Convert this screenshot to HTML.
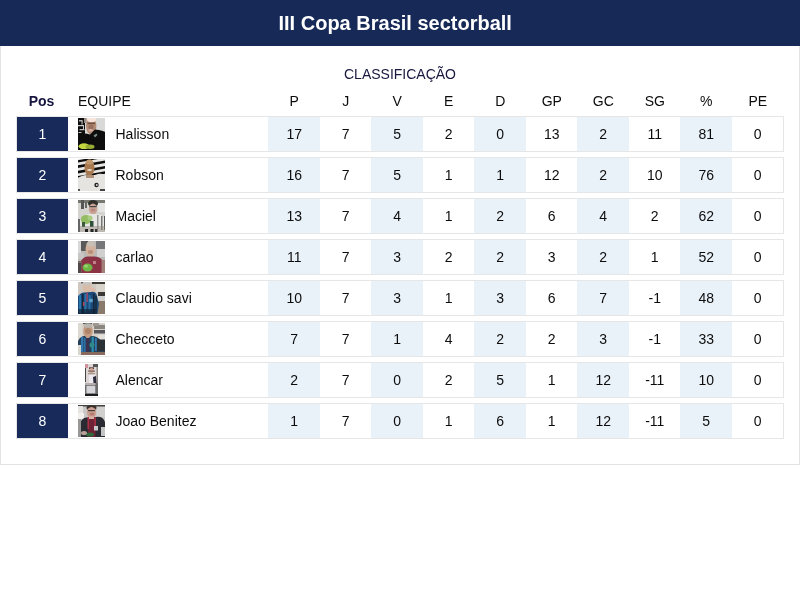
<!DOCTYPE html><html><head><meta charset="utf-8"><title>III Copa Brasil sectorball</title><style>
*{box-sizing:border-box}
html,body{margin:0;padding:0}
body{width:800px;height:600px;background:#fff;font-family:"Liberation Sans",Arial,sans-serif;font-size:14px;color:#0c0c0c;overflow:hidden;position:relative}
.top{position:absolute;left:0;top:0;width:800px;height:46px;background:#162957;color:#fff;font-weight:bold;font-size:20px;text-align:left;padding-left:278.5px;line-height:46px;white-space:nowrap}
.card{position:absolute;left:0;top:46px;width:800px;height:419px;background:#fff;border:1px solid #e3e3e3;border-top:none}
  .ttl{position:absolute;left:-1px;top:20px;width:800px;text-align:center;color:#17173f;font-size:14px;line-height:16px}
.hd{position:absolute;left:15px;top:47px;width:768px;height:16px;line-height:16px}
.hd span,.r span{position:absolute;top:0;text-align:center}
.r{position:absolute;left:15px;width:768px;height:36px;border:1px solid #e6e6e6;background:#fff}
.r span{line-height:32px;height:32px;top:1px}
.r .pos{left:0;top:0;width:51px;height:34px;background:#172a5a;color:#fff;line-height:34px}
.r .nm{left:98.5px;text-align:left;white-space:nowrap}
.r .ph{left:61px;top:1px;width:27px;height:32px;overflow:hidden}
.r .ph svg{margin:0 auto}
.r .n{top:0;height:34px;line-height:34px;padding-left:1px}
.b{background:#eaf2f9}
</style></head><body>
<div class="top">III Copa Brasil sectorball</div>
<div class="card">
<div class="ttl">CLASSIFICAÇÃO</div>
<div class="hd"><span style="left:0;width:51px;font-weight:bold;color:#15153f">Pos</span><span style="left:62px;text-align:left">EQUIPE</span>
<span style="left:252.5px;width:51.5px">P</span>
<span style="left:304.0px;width:51.5px">J</span>
<span style="left:355.5px;width:51.5px">V</span>
<span style="left:407.0px;width:51.5px">E</span>
<span style="left:458.5px;width:51.5px">D</span>
<span style="left:510.0px;width:51.5px">GP</span>
<span style="left:561.5px;width:51.5px">GC</span>
<span style="left:613.0px;width:51.5px">SG</span>
<span style="left:664.5px;width:51.5px">%</span>
<span style="left:716.0px;width:51.5px">PE</span>
</div>
<div class="r" style="top:70px"><span class="pos">1</span><span class="ph"><svg width="27" height="32" viewBox="0 0 27 32" style="display:block;overflow:hidden"><defs><filter id="bl1" x="-20%" y="-20%" width="140%" height="140%"><feGaussianBlur stdDeviation="0.5"/></filter></defs><g filter="url(#bl1)">
<rect x="-2" y="-2" width="31" height="36" fill="#d9d9d7"/>
<rect x="-2" y="-2" width="9" height="22" fill="#0d0d0d"/>
<rect x="1" y="2.3" width="3.6" height="1" fill="#fff"/><rect x="0" y="7.2" width="6" height="1" fill="#fff"/><rect x="1.5" y="11.2" width="5" height="1" fill="#eee"/><rect x="0.5" y="14" width="3" height="0.9" fill="#ddd"/>
<rect x="3.6" y="3" width="0.9" height="3.6" fill="#eee"/><rect x="5" y="8" width="0.9" height="3" fill="#ddd"/>
<rect x="6" y="-1" width="2.6" height="6" fill="#9a8c84"/>
<ellipse cx="13.2" cy="8" rx="5.2" ry="8.5" fill="#b48c76"/>
<ellipse cx="13.6" cy="1.2" rx="4.6" ry="3" fill="#f6e4da"/>
<rect x="9.5" y="4.6" width="7.5" height="1.6" fill="#6e4e40"/>
<ellipse cx="13" cy="9" rx="2.6" ry="2.6" fill="#96705c"/>
<ellipse cx="12.6" cy="12.2" rx="2.4" ry="1.2" fill="#d8b0a4"/>
<path d="M-2 19 Q2 16 8 15.5 L12 16.5 L17 11.5 Q25 12 29 15 L29 34 L-2 34Z" fill="#0b0c0b"/>
<path d="M15.5 17.5 L18.5 15.5 L19.5 17 L17 19.5Z" fill="#7c8c84"/>
<ellipse cx="6" cy="28.2" rx="5.5" ry="2.9" fill="#c3d640"/>
<ellipse cx="12" cy="28.8" rx="4.5" ry="2.2" fill="#98ac34"/>
</g></svg></span><span class="nm">Halisson</span>
<span class="n b" style="left:251.0px;width:51.5px">17</span>
<span class="n" style="left:302.5px;width:51.5px">7</span>
<span class="n b" style="left:354.0px;width:51.5px">5</span>
<span class="n" style="left:405.5px;width:51.5px">2</span>
<span class="n b" style="left:457.0px;width:51.5px">0</span>
<span class="n" style="left:508.5px;width:51.5px">13</span>
<span class="n b" style="left:560.0px;width:51.5px">2</span>
<span class="n" style="left:611.5px;width:51.5px">11</span>
<span class="n b" style="left:663.0px;width:51.5px">81</span>
<span class="n" style="left:714.5px;width:51.5px">0</span>
</div>
<div class="r" style="top:111px"><span class="pos">2</span><span class="ph"><svg width="27" height="32" viewBox="0 0 27 32" style="display:block;overflow:hidden"><defs><filter id="bl2" x="-20%" y="-20%" width="140%" height="140%"><feGaussianBlur stdDeviation="0.7"/></filter></defs><g filter="url(#bl2)">
<rect x="-2" y="-2" width="31" height="36" fill="#e9e7e4"/>
<g transform="rotate(-10 13 8)">
<rect x="-4" y="-1" width="36" height="2.4" fill="#111"/><rect x="-4" y="4" width="36" height="2.6" fill="#111"/><rect x="-4" y="9.4" width="36" height="2.6" fill="#111"/><rect x="-4" y="14.6" width="36" height="2.6" fill="#111"/>
</g>
<path d="M-2 20 Q4 16 9 16 L17 16 Q24 13 29 17 L29 34 L-2 34Z" fill="#e6e4e0"/>
<ellipse cx="11.5" cy="8.5" rx="5" ry="8" fill="#a87850"/>
<ellipse cx="11.5" cy="3" rx="3.6" ry="2.5" fill="#c09870"/>
<ellipse cx="11.5" cy="11" rx="2.5" ry="1" fill="#e8d8c8"/>
<rect x="8" y="16" width="8" height="3" fill="#b09078"/>
<circle cx="18.5" cy="26" r="2.2" fill="#222"/><circle cx="18.8" cy="26" r="0.9" fill="#ddd"/>
<rect x="0" y="30" width="2" height="3" fill="#555"/><rect x="22" y="30" width="6" height="2" fill="#444"/>
</g></svg></span><span class="nm">Robson</span>
<span class="n b" style="left:251.0px;width:51.5px">16</span>
<span class="n" style="left:302.5px;width:51.5px">7</span>
<span class="n b" style="left:354.0px;width:51.5px">5</span>
<span class="n" style="left:405.5px;width:51.5px">1</span>
<span class="n b" style="left:457.0px;width:51.5px">1</span>
<span class="n" style="left:508.5px;width:51.5px">12</span>
<span class="n b" style="left:560.0px;width:51.5px">2</span>
<span class="n" style="left:611.5px;width:51.5px">10</span>
<span class="n b" style="left:663.0px;width:51.5px">76</span>
<span class="n" style="left:714.5px;width:51.5px">0</span>
</div>
<div class="r" style="top:152px"><span class="pos">3</span><span class="ph"><svg width="27" height="32" viewBox="0 0 27 32" style="display:block;overflow:hidden"><defs><filter id="bl3" x="-20%" y="-20%" width="140%" height="140%"><feGaussianBlur stdDeviation="0.6"/></filter></defs><g filter="url(#bl3)">
<rect x="-2" y="-2" width="31" height="36" fill="#d4d3cf"/>
<rect x="-2" y="-2" width="31" height="5" fill="#77786f"/>
<rect x="3" y="0" width="3" height="9" fill="#555"/><rect x="7" y="2" width="2" height="6" fill="#666"/>
<rect x="20" y="3" width="8" height="9" fill="#e4e4e2"/>
<ellipse cx="15" cy="3.5" rx="5" ry="3.5" fill="#33302c"/>
<ellipse cx="15" cy="9" rx="4.2" ry="5.5" fill="#c9a494"/>
<rect x="11.5" y="6" width="7" height="1.2" fill="#444"/>
<ellipse cx="15" cy="10" rx="2.5" ry="1.5" fill="#b88880"/>
<path d="M2 20 Q8 13 13 14 L18 14 Q25 14 27 20 L27 34 L2 34Z" fill="#e6e6e4"/>
<rect x="19" y="15" width="1.5" height="14" fill="#999"/><rect x="23" y="16" width="1.5" height="14" fill="#777"/><rect x="26" y="16" width="2" height="14" fill="#555"/>
<ellipse cx="8" cy="19.5" rx="5.2" ry="4.6" fill="#94bc64"/><ellipse cx="12" cy="18" rx="2.5" ry="2.5" fill="#a8cc80"/>
<rect x="4" y="22" width="3" height="5" fill="#3a5a38"/><rect x="12" y="21" width="3.5" height="6" fill="#2f4f38"/>
<rect x="0" y="26" width="28" height="7" fill="#8d8478" opacity=".45"/>
<rect x="7" y="29" width="3" height="3" fill="#222"/><rect x="12.5" y="29" width="3" height="3" fill="#222"/><rect x="17" y="29" width="2.5" height="3" fill="#333"/>
<rect x="0" y="19" width="2" height="13" fill="#666"/>
</g></svg></span><span class="nm">Maciel</span>
<span class="n b" style="left:251.0px;width:51.5px">13</span>
<span class="n" style="left:302.5px;width:51.5px">7</span>
<span class="n b" style="left:354.0px;width:51.5px">4</span>
<span class="n" style="left:405.5px;width:51.5px">1</span>
<span class="n b" style="left:457.0px;width:51.5px">2</span>
<span class="n" style="left:508.5px;width:51.5px">6</span>
<span class="n b" style="left:560.0px;width:51.5px">4</span>
<span class="n" style="left:611.5px;width:51.5px">2</span>
<span class="n b" style="left:663.0px;width:51.5px">62</span>
<span class="n" style="left:714.5px;width:51.5px">0</span>
</div>
<div class="r" style="top:193px"><span class="pos">4</span><span class="ph"><svg width="27" height="32" viewBox="0 0 27 32" style="display:block;overflow:hidden"><defs><filter id="bl4" x="-20%" y="-20%" width="140%" height="140%"><feGaussianBlur stdDeviation="0.7"/></filter></defs><g filter="url(#bl4)">
<rect x="-2" y="-2" width="31" height="36" fill="#b9b9b7"/>
<rect x="3" y="0" width="7" height="10" fill="#5a5a58"/><rect x="18" y="0" width="10" height="8" fill="#77787a"/><rect x="0" y="0" width="3" height="14" fill="#d8d8d8"/>
<rect x="19" y="8" width="9" height="8" fill="#d0d0ce"/><rect x="0" y="12" width="6" height="6" fill="#c8c6c4"/>
<ellipse cx="12.5" cy="8" rx="5" ry="7.5" fill="#d2b29c"/>
<ellipse cx="12.5" cy="3" rx="4" ry="2.6" fill="#c8c0b4"/>
<ellipse cx="12.5" cy="11" rx="2.6" ry="2" fill="#b88e7c"/>
<path d="M2 22 Q5 15 10 15.5 L16 15.5 Q23 15 26 22 L27 34 L0 34Z" fill="#8c3345"/>
<rect x="0" y="20" width="3.5" height="13" fill="#7a6a66"/><rect x="23.5" y="19" width="4" height="14" fill="#a08078"/>
<ellipse cx="9.5" cy="26.5" rx="5" ry="4" fill="#6fb545"/>
<ellipse cx="8" cy="25" rx="2" ry="1.5" fill="#9ad470"/>
<rect x="15" y="20" width="3" height="3" fill="#c08088"/>
<rect x="0" y="22" width="3" height="10" fill="#333" opacity=".6"/>
</g></svg></span><span class="nm">carlao</span>
<span class="n b" style="left:251.0px;width:51.5px">11</span>
<span class="n" style="left:302.5px;width:51.5px">7</span>
<span class="n b" style="left:354.0px;width:51.5px">3</span>
<span class="n" style="left:405.5px;width:51.5px">2</span>
<span class="n b" style="left:457.0px;width:51.5px">2</span>
<span class="n" style="left:508.5px;width:51.5px">3</span>
<span class="n b" style="left:560.0px;width:51.5px">2</span>
<span class="n" style="left:611.5px;width:51.5px">1</span>
<span class="n b" style="left:663.0px;width:51.5px">52</span>
<span class="n" style="left:714.5px;width:51.5px">0</span>
</div>
<div class="r" style="top:234px"><span class="pos">5</span><span class="ph"><svg width="27" height="32" viewBox="0 0 27 32" style="display:block;overflow:hidden"><defs><filter id="bl5" x="-20%" y="-20%" width="140%" height="140%"><feGaussianBlur stdDeviation="0.7"/></filter></defs><g filter="url(#bl5)">
<rect x="-2" y="-2" width="31" height="36" fill="#cfc8c0"/>
<rect x="14" y="-1" width="14" height="3" fill="#3c3a38"/><rect x="3" y="-1" width="6" height="2.5" fill="#666"/>
<rect x="18" y="2" width="10" height="8" fill="#d8d4cc"/>
<rect x="20" y="10" width="8" height="4" fill="#3a3838"/><rect x="20" y="14" width="8" height="5" fill="#cfcfcf"/>
<rect x="18" y="19" width="10" height="14" fill="#8a7a6c"/>
<ellipse cx="9" cy="5.5" rx="4.5" ry="5.5" fill="#d9bca8"/>
<ellipse cx="8.5" cy="1.5" rx="4" ry="2" fill="#c8c4c0"/>
<ellipse cx="15" cy="8" rx="2.5" ry="2" fill="#e0b8a8"/>
<path d="M-1 16 Q2 10 7 10.5 L13 10 Q18 9 19 14 L21 22 L19 34 L-1 34Z" fill="#1d4a78"/>
<rect x="1" y="13" width="2" height="18" fill="#2c74ac"/><rect x="4" y="12" width="1.6" height="20" fill="#12283e"/><rect x="6.5" y="12" width="1.8" height="18" fill="#2c74ac"/><rect x="10.5" y="13" width="2" height="16" fill="#2a6ea6"/><rect x="15" y="12" width="1.6" height="20" fill="#12283e"/><rect x="17" y="14" width="2" height="14" fill="#15304c"/>
<rect x="8.5" y="11" width="1.3" height="9" fill="#b04868"/><rect x="5" y="20" width="1.5" height="4" fill="#b04858"/>
<ellipse cx="13" cy="18.5" rx="2" ry="2" fill="#5aa0c4"/>
<rect x="-1" y="27" width="20" height="6" fill="#101c2c" opacity=".6"/>
</g></svg></span><span class="nm">Claudio savi</span>
<span class="n b" style="left:251.0px;width:51.5px">10</span>
<span class="n" style="left:302.5px;width:51.5px">7</span>
<span class="n b" style="left:354.0px;width:51.5px">3</span>
<span class="n" style="left:405.5px;width:51.5px">1</span>
<span class="n b" style="left:457.0px;width:51.5px">3</span>
<span class="n" style="left:508.5px;width:51.5px">6</span>
<span class="n b" style="left:560.0px;width:51.5px">7</span>
<span class="n" style="left:611.5px;width:51.5px">-1</span>
<span class="n b" style="left:663.0px;width:51.5px">48</span>
<span class="n" style="left:714.5px;width:51.5px">0</span>
</div>
<div class="r" style="top:275px"><span class="pos">6</span><span class="ph"><svg width="27" height="32" viewBox="0 0 27 32" style="display:block;overflow:hidden"><defs><filter id="bl6" x="-20%" y="-20%" width="140%" height="140%"><feGaussianBlur stdDeviation="0.7"/></filter></defs><g filter="url(#bl6)">
<rect x="-2" y="-2" width="31" height="36" fill="#d6d0c8"/>
<rect x="5" y="-1" width="9" height="2" fill="#555"/>
<rect x="16" y="2" width="12" height="4" fill="#8a8680"/><rect x="16" y="7" width="11" height="3.5" fill="#55555a"/><rect x="15" y="0" width="6" height="3" fill="#a09890"/>
<rect x="0" y="0" width="4" height="14" fill="#dcd8d2"/>
<rect x="20" y="12" width="8" height="8" fill="#e2e0dc"/>
<ellipse cx="10" cy="8" rx="4.8" ry="7" fill="#c49c84"/>
<ellipse cx="10" cy="2.5" rx="4.4" ry="2.3" fill="#b8b4ae"/>
<ellipse cx="10" cy="8" rx="3" ry="3" fill="#b08468"/>
<path d="M0 18 Q3 12.5 7 13 L9.5 16 L13 13 Q20 13 23 18 L27 24 L27 31 L3 31 L0 24Z" fill="#263f5c"/>
<rect x="3" y="14" width="2.4" height="15" fill="#3078b0"/><rect x="6" y="15" width="1.6" height="14" fill="#2c70a4"/><rect x="13.5" y="14" width="2.4" height="15" fill="#2a8aa8"/><rect x="17" y="15" width="1.8" height="13" fill="#3078b0"/>
<rect x="8" y="15" width="3" height="14" fill="#3a3050"/>
<ellipse cx="14" cy="22" rx="2.5" ry="2.5" fill="#2f8a88"/>
<rect x="0" y="22" width="3" height="10" fill="#d8d4ce"/>
<rect x="3" y="29" width="24" height="3" fill="#8a6a5c"/>
<rect x="19" y="16.5" width="9" height="11.5" fill="#2a3038"/>
</g></svg></span><span class="nm">Checceto</span>
<span class="n b" style="left:251.0px;width:51.5px">7</span>
<span class="n" style="left:302.5px;width:51.5px">7</span>
<span class="n b" style="left:354.0px;width:51.5px">1</span>
<span class="n" style="left:405.5px;width:51.5px">4</span>
<span class="n b" style="left:457.0px;width:51.5px">2</span>
<span class="n" style="left:508.5px;width:51.5px">2</span>
<span class="n b" style="left:560.0px;width:51.5px">3</span>
<span class="n" style="left:611.5px;width:51.5px">-1</span>
<span class="n b" style="left:663.0px;width:51.5px">33</span>
<span class="n" style="left:714.5px;width:51.5px">0</span>
</div>
<div class="r" style="top:316px"><span class="pos">7</span><span class="ph"><svg width="13" height="32" viewBox="0 0 13 32" style="display:block;overflow:hidden"><defs><filter id="bl7" x="-20%" y="-20%" width="140%" height="140%"><feGaussianBlur stdDeviation="0.55"/></filter></defs><g filter="url(#bl7)">
<rect x="-2" y="-2" width="17" height="36" fill="#dcd6d4"/>
<rect x="0" y="0" width="3" height="4" fill="#d0909c"/>
<rect x="8" y="0" width="5" height="3" fill="#555"/>
<rect x="11.5" y="3" width="2" height="16" fill="#8e8886"/>
<rect x="0" y="4" width="1" height="14" fill="#444"/>
<rect x="4" y="3.4" width="5" height="1.6" fill="#4a2a2a"/>
<ellipse cx="6.5" cy="6.5" rx="2.6" ry="2.6" fill="#d0a898"/>
<rect x="3" y="9" width="7" height="1.2" fill="#a89890"/><rect x="3" y="6.6" width="7" height="1" fill="#6a5a58"/>
<rect x="4" y="11" width="6" height="9" fill="#eceaf0"/>
<path d="M8 13 L11 12 L11.5 19 L8.5 19Z" fill="#2a2a3a"/>
<rect x="0" y="19" width="14" height="3" fill="#b8b0ae"/>
<rect x="0" y="21" width="14" height="12" fill="#6e6e70"/>
<rect x="1.5" y="21.8" width="9" height="7.4" fill="#d6d6da"/>
<rect x="10.5" y="19" width="3" height="14" fill="#6a6a6a"/>
<rect x="0" y="30" width="14" height="3" fill="#1c1c1e"/>
</g></svg></span><span class="nm">Alencar</span>
<span class="n b" style="left:251.0px;width:51.5px">2</span>
<span class="n" style="left:302.5px;width:51.5px">7</span>
<span class="n b" style="left:354.0px;width:51.5px">0</span>
<span class="n" style="left:405.5px;width:51.5px">2</span>
<span class="n b" style="left:457.0px;width:51.5px">5</span>
<span class="n" style="left:508.5px;width:51.5px">1</span>
<span class="n b" style="left:560.0px;width:51.5px">12</span>
<span class="n" style="left:611.5px;width:51.5px">-11</span>
<span class="n b" style="left:663.0px;width:51.5px">10</span>
<span class="n" style="left:714.5px;width:51.5px">0</span>
</div>
<div class="r" style="top:357px"><span class="pos">8</span><span class="ph"><svg width="27" height="32" viewBox="0 0 27 32" style="display:block;overflow:hidden"><defs><filter id="bl8" x="-20%" y="-20%" width="140%" height="140%"><feGaussianBlur stdDeviation="0.7"/></filter></defs><g filter="url(#bl8)">
<rect x="-2" y="-2" width="31" height="36" fill="#c9c8c6"/>
<rect x="-2" y="-2" width="31" height="3.5" fill="#44423f"/>
<rect x="0" y="1" width="5" height="12" fill="#e6e4e0"/><rect x="0" y="8" width="6" height="6" fill="#f2f0ec"/>
<rect x="19" y="2" width="9" height="10" fill="#d2d0ce"/>
<ellipse cx="13.5" cy="2.8" rx="5" ry="2.6" fill="#3a2e2a"/>
<ellipse cx="13.5" cy="7.5" rx="4.6" ry="5.5" fill="#c9a090"/>
<rect x="10" y="5" width="7" height="1.2" fill="#4a3a38"/>
<ellipse cx="14" cy="9" rx="2.6" ry="1.6" fill="#b47c74"/>
<path d="M1 20 Q4 12 9 12.5 L18 12 Q25 11 27 17 L28 34 L1 34Z" fill="#2c2c32"/>
<rect x="10" y="13" width="7.5" height="19" fill="#6e2234"/>
<rect x="9.5" y="12" width="1.4" height="12" fill="#b03048"/><rect x="16.5" y="12" width="1.4" height="10" fill="#b03048"/>
<rect x="11" y="11.5" width="5" height="2.5" fill="#d8b0a4"/>
<rect x="16" y="21" width="4" height="4.5" fill="#c8c8cc"/>
<rect x="0" y="14" width="3" height="18" fill="#9a9896"/>
<rect x="23" y="22" width="5" height="9" fill="#c4c4c4"/>
<ellipse cx="12" cy="29.5" rx="4" ry="2" fill="#2f6a3a"/>
<ellipse cx="6" cy="28" rx="3" ry="2" fill="#b8a098"/>
</g></svg></span><span class="nm">Joao Benitez</span>
<span class="n b" style="left:251.0px;width:51.5px">1</span>
<span class="n" style="left:302.5px;width:51.5px">7</span>
<span class="n b" style="left:354.0px;width:51.5px">0</span>
<span class="n" style="left:405.5px;width:51.5px">1</span>
<span class="n b" style="left:457.0px;width:51.5px">6</span>
<span class="n" style="left:508.5px;width:51.5px">1</span>
<span class="n b" style="left:560.0px;width:51.5px">12</span>
<span class="n" style="left:611.5px;width:51.5px">-11</span>
<span class="n b" style="left:663.0px;width:51.5px">5</span>
<span class="n" style="left:714.5px;width:51.5px">0</span>
</div>
</div></body></html>
